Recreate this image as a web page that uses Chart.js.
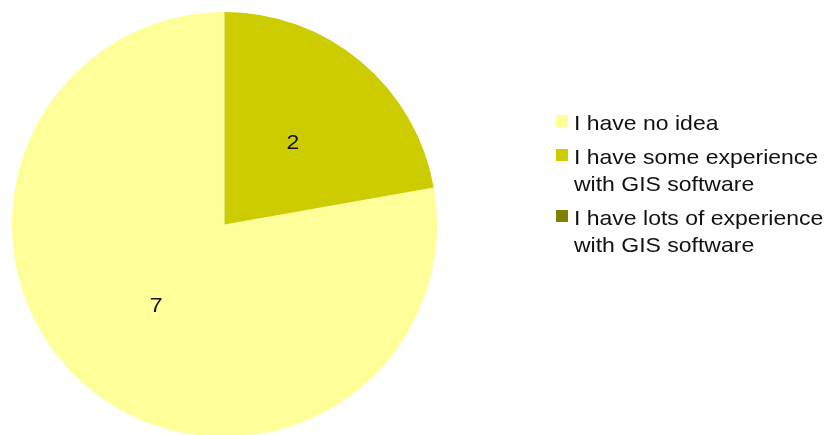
<!DOCTYPE html>
<html>
<head>
<meta charset="utf-8">
<script src="https://cdn.jsdelivr.net/npm/chart.js@4/dist/chart.umd.min.js"></script>
<style>
  html, body { margin: 0; padding: 0; background: #fff; overflow: hidden; }
  #wrap { position: relative; width: 828px; height: 440px; }
</style>
</head>
<body>
<div id="wrap"><canvas id="gis_experiencia"></canvas></div>
<script>
const categorias = ['I have no idea', 'I have some experience with GIS software', 'I have lots of experience with GIS software'];
const valores = [7, 2, 0];
const colores = ['#ffff99', '#cccc00', '#808000'];

const total = valores.reduce((a, b) => a + b, 0);
// slices run counterclockwise from the top, so start after the later ones
const rotacion = 360 * (total - valores[0]) / total;

const fuente = '21px "Liberation Sans", Arial, sans-serif';
const anchoLetra = 1.095; // texto algo ensanchado

function texto(ctx, t, x, y, align) {
  ctx.save();
  ctx.translate(x, y);
  ctx.scale(anchoLetra, 1);
  ctx.textAlign = align;
  ctx.fillText(t, 0, 0);
  ctx.restore();
}

// value written in the middle of each slice
const etiquetas = {
  id: 'etiquetas',
  afterDatasetsDraw(chart) {
    const ctx = chart.ctx;
    const meta = chart.getDatasetMeta(0);
    ctx.save();
    ctx.font = fuente;
    ctx.fillStyle = '#111';
    ctx.textBaseline = 'middle';
    meta.data.forEach((arc, i) => {
      if (!valores[i]) return;
      const p = arc.getCenterPoint();
      texto(ctx, String(valores[i]), p.x, p.y, 'center');
    });
    ctx.restore();
  }
};

// legend on the right, long labels wrapped
const leyenda = {
  id: 'leyenda',
  afterDraw(chart) {
    const ctx = chart.ctx;
    ctx.save();
    ctx.font = fuente;
    ctx.textBaseline = 'alphabetic';
    const x0 = 556, xt = 574, maxW = 262, lh = 27, gap = 7;
    let y = 130;
    categorias.forEach((txt, i) => {
      const palabras = txt.split(' ');
      const lineas = [];
      let actual = '';
      palabras.forEach(w => {
        const prueba = actual ? actual + ' ' + w : w;
        if (ctx.measureText(prueba).width * anchoLetra > maxW && actual) {
          lineas.push(actual);
          actual = w;
        } else {
          actual = prueba;
        }
      });
      lineas.push(actual);
      ctx.fillStyle = colores[i];
      ctx.fillRect(x0, y - 15, 12, 12);
      ctx.fillStyle = '#111';
      lineas.forEach((l, j) => texto(ctx, l, xt, y + j * lh, 'left'));
      y += lineas.length * lh + gap;
    });
    ctx.restore();
  }
};

const ctx = document.getElementById('gis_experiencia').getContext('2d');
const grafico = new Chart(ctx, {
  type: 'pie',
  plugins: [etiquetas, leyenda],
  data: {
    labels: categorias,
    datasets: [{
      data: valores,
      backgroundColor: colores,
      borderWidth: 0
    }]
  },
  options: {
    responsive: true,
    maintainAspectRatio: false,
    animation: false,
    rotation: rotacion,
    layout: { padding: { left: 12, right: 391, top: 12, bottom: 3 } },
    plugins: {
      legend: { display: false },
      tooltip: { enabled: false }
    }
  }
});
</script>
</body>
</html>
